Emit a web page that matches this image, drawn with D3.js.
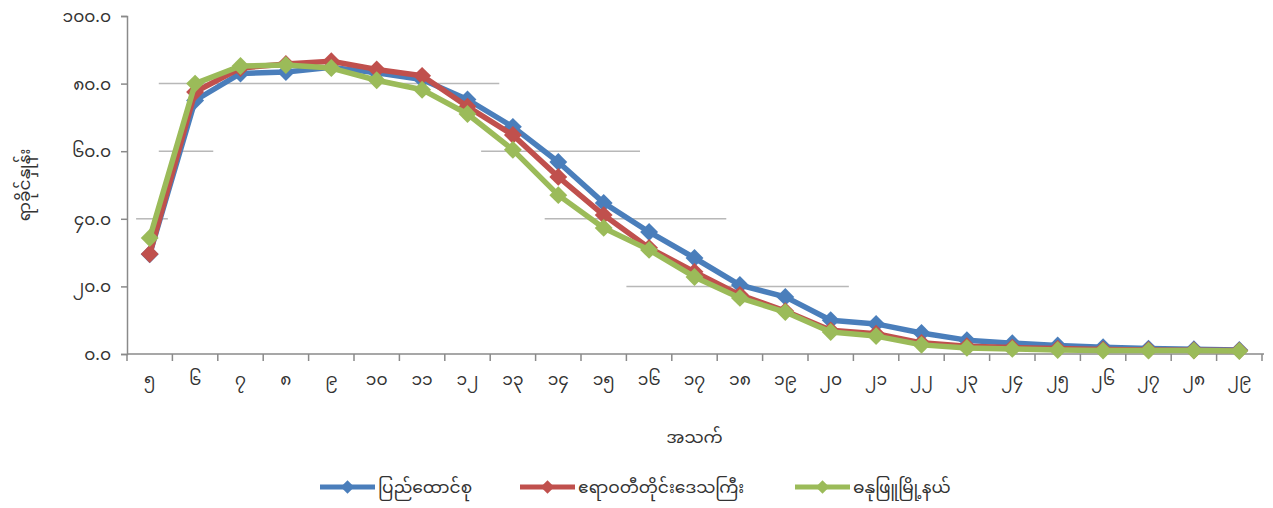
<!DOCTYPE html>
<html>
<head>
<meta charset="utf-8">
<script src="https://cdn.jsdelivr.net/npm/d3@7"></script>
<style>
  body { margin: 0; background: #fff; }
  svg text { font-family: "Noto Sans Myanmar", "Padauk", "Myanmar Text", "Noto Sans", sans-serif; fill: #333; }
</style>
</head>
<body>
<svg id="chart" width="1273" height="508"></svg>
<script>
// ages 5..29, labels in Myanmar digits
const ages = d3.range(5, 30);
const ageLabels = ['၅','၆','၇','၈','၉','၁၀','၁၁','၁၂','၁၃','၁၄','၁၅','၁၆','၁၇','၁၈','၁၉','၂၀','၂၁','၂၂','၂၃','၂၄','၂၅','၂၆','၂၇','၂၈','၂၉'];
const yTicks = [0, 20, 40, 60, 80, 100];
const yTickLabels = ['၀.၀','၂၀.၀','၄၀.၀','၆၀.၀','၈၀.၀','၁၀၀.၀'];

const seriesNames = ['ပြည်ထောင်စု', 'ဧရာဝတီတိုင်းဒေသကြီး', 'ဓနုဖြူမြို့နယ်'];
const unionVals    = [29.5, 75.0, 83.0, 83.4, 84.8, 83.2, 81.2, 75.3, 67.2, 56.8, 44.7, 36.1, 28.4, 20.4, 16.9, 10.0, 8.9, 6.2, 4.1, 3.2, 2.5, 2.0, 1.6, 1.4, 1.2];
const ayeyarVals   = [29.6, 77.5, 84.6, 85.8, 86.6, 84.2, 82.3, 73.2, 64.8, 52.4, 41.1, 31.4, 24.3, 17.5, 12.7, 7.0, 6.0, 3.3, 2.3, 1.9, 1.6, 1.3, 1.2, 1.1, 1.0];
const danubyuVals  = [34.3, 80.0, 85.2, 85.5, 84.6, 81.0, 78.2, 71.0, 60.4, 47.0, 37.3, 30.8, 22.8, 16.6, 12.4, 6.5, 5.3, 2.7, 1.8, 1.5, 1.2, 1.0, 1.0, 1.0, 0.9];
const colors = ['#4a7ebb', '#c0504d', '#9bbb59'];

// horizontal gridlines appear only in pieces in the source
const gridSpans = [
  { v: 80, from: 5.2, to: 12.7 },
  { v: 60, from: 5.2, to: 6.4 },
  { v: 60, from: 12.3, to: 15.8 },
  { v: 40, from: 4.7, to: 5.4 },
  { v: 40, from: 13.7, to: 17.7 },
  { v: 20, from: 15.5, to: 20.4 }
];

const svg = d3.select('#chart');
const margin = { left: 127, right: 11, top: 16, bottom: 154 };
const W = 1273, H = 508;

const x = d3.scaleBand()
    .domain(ages)
    .range([margin.left, W - margin.right]);
const xc = d3.scaleLinear()
    .domain([4.5, 29.5])
    .range([margin.left, W - margin.right]);
const y = d3.scaleLinear()
    .domain([0, 100])
    .range([H - margin.bottom, margin.top]);

// gridlines
svg.append('g').selectAll('line')
  .data(gridSpans)
  .join('line')
    .attr('x1', d => xc(d.from))
    .attr('x2', d => xc(d.to))
    .attr('y1', d => y(d.v))
    .attr('y2', d => y(d.v))
    .attr('stroke', '#b8b8b8')
    .attr('stroke-width', 1.5);

// y axis
const yAxis = svg.append('g')
    .attr('transform', `translate(${margin.left},0)`)
    .call(d3.axisLeft(y).tickValues(yTicks).tickSize(6).tickPadding(10)
      .tickFormat((d, i) => yTickLabels[i]));
yAxis.selectAll('path, line').attr('stroke', '#8a8a8a').attr('stroke-width', 1.5);
yAxis.selectAll('text').style('font-size', '17px').attr('fill', '#333');

// x axis, ticks between categories
const xAxisG = svg.append('g')
    .attr('transform', `translate(0,${y(0)})`);
xAxisG.append('line')
    .attr('x1', margin.left).attr('x2', W - margin.right + 2)
    .attr('stroke', '#8a8a8a').attr('stroke-width', 1.5);
xAxisG.selectAll('.tk')
  .data(ages.concat([30]))
  .join('line')
    .attr('class', 'tk')
    .attr('x1', d => xc(d - 0.5)).attr('x2', d => xc(d - 0.5))
    .attr('y1', 0).attr('y2', 7)
    .attr('stroke', '#8a8a8a').attr('stroke-width', 1.5);
xAxisG.selectAll('.lbl')
  .data(ages)
  .join('text')
    .attr('class', 'lbl')
    .attr('x', d => x(d) + x.bandwidth() / 2)
    .attr('y', 31)
    .attr('text-anchor', 'middle')
    .style('font-size', '17px')
    .text((d, i) => ageLabels[i]);

// axis titles
svg.append('text')
    .attr('x', (margin.left + W - margin.right) / 2)
    .attr('y', 443)
    .attr('text-anchor', 'middle')
    .style('font-size', '17px')
    .text('အသက်');
svg.append('text')
    .attr('transform', `translate(30, ${y(50)}) rotate(-90)`)
    .attr('text-anchor', 'middle')
    .style('font-size', '17px')
    .text('ရာခိုင်နှုန်း');

// lines
const allSeries = [unionVals, ayeyarVals, danubyuVals];
const line = d3.line()
    .x((d, i) => x(ages[i]) + x.bandwidth() / 2)
    .y(d => y(d));
const diamond = d3.symbol().type(d3.symbolSquare).size(160);

allSeries.forEach((vals, k) => {
  const g = svg.append('g');
  g.append('path')
      .datum(vals)
      .attr('fill', 'none')
      .attr('stroke', colors[k])
      .attr('stroke-width', 5.5)
      .attr('stroke-linejoin', 'round')
      .attr('d', line);
  g.selectAll('path.m')
    .data(vals)
    .join('path')
      .attr('class', 'm')
      .attr('transform', (d, i) => `translate(${x(ages[i]) + x.bandwidth() / 2},${y(d)}) rotate(45)`)
      .attr('d', diamond)
      .attr('fill', colors[k]);
});

// legend
const legendX = [320, 520, 795];
const legend = svg.append('g').attr('transform', 'translate(0,487)');
seriesNames.forEach((name, k) => {
  const item = legend.append('g').attr('transform', `translate(${legendX[k]},0)`);
  item.append('line')
      .attr('x1', 0).attr('x2', 55)
      .attr('stroke', colors[k]).attr('stroke-width', 5);
  item.append('path')
      .attr('transform', 'translate(27.5,0) rotate(45)')
      .attr('d', d3.symbol().type(d3.symbolSquare).size(90))
      .attr('fill', colors[k]);
  item.append('text')
      .attr('x', 58).attr('y', 6)
      .style('font-size', '17px')
      .text(name);
});
</script>
</body>
</html>
